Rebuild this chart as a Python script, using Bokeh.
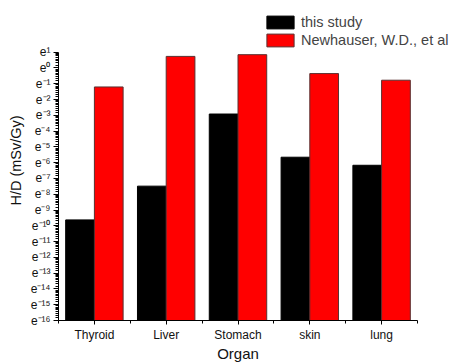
import math
import numpy as np
from bokeh.plotting import figure
from bokeh.models import Range1d, FixedTicker, Legend, LegendItem, ColumnDataSource, Title
from bokeh.embed import file_html
from bokeh.resources import INLINE

# ---- data ----
organs = ["Thyroid", "Liver", "Stomach", "skin", "lung"]
this_study = [6.6e-5, 5.6e-4, 5.4e-2, 3.5e-3, 2.1e-3]          # H/D (mSv/Gy)
newhauser = [0.30, 2.08, 2.32, 0.70, 0.46]                     # H/D (mSv/Gy)
series_names = ["this study", "Newhauser, W.D., et al"]
y_exponents = [1, 0, -1, -2, -3, -4, -5, -6, -7, -8, -9, -10, -11, -12, -13, -14, -15, -16]
y_tick_labels = ["e¹", "e⁰", "e⁻¹", "e⁻²", "e⁻³", "e⁻⁴", "e⁻⁵", "e⁻⁶", "e⁻⁷", "e⁻⁸",
                 "e⁻⁹", "e⁻¹⁰", "e⁻¹¹", "e⁻¹²", "e⁻¹³", "e⁻¹⁴", "e⁻¹⁵", "e⁻¹⁶"]
x_title = "Organ"
y_title = "H/D (mSv/Gy)"

FONT = "Liberation Sans"
ymin, ymax = min(y_exponents), max(y_exponents)
n = len(organs)

# layout (pixels)
W, H = 455, 363
LEFT, BOTTOM = 58, 41
AX_W, AX_H = 359, 270          # drawn axis extents
FRAME_W, FRAME_H = W - LEFT, H - BOTTOM
x_end = -0.5 + n * FRAME_W / AX_W
y_end = ymin + (ymax - ymin) * FRAME_H / AX_H

idx = np.arange(n)
src = ColumnDataSource(dict(
    x_a=idx - 0.2,
    x_b=idx + 0.2,
    top_a=np.log(this_study),
    top_b=np.log(newhauser),
))

p = figure(width=W, height=H,
           x_range=Range1d(-0.5, x_end),
           y_range=Range1d(ymin, y_end),
           output_backend="svg", toolbar_location=None,
           min_border_left=LEFT, min_border_right=0,
           min_border_top=0, min_border_bottom=BOTTOM)

r1 = p.vbar(x="x_a", top="top_a", bottom=ymin, width=0.4, source=src,
            fill_color="black", line_color="black", line_width=1)
r2 = p.vbar(x="x_b", top="top_b", bottom=ymin, width=0.4, source=src,
            fill_color="#ff0000", line_color="#5a3030", line_width=1)

p.xgrid.visible = False
p.ygrid.visible = False
p.outline_line_color = None
p.background_fill_color = "white"
p.border_fill_color = "white"

# x axis
p.xaxis.bounds = (-0.5, n - 0.5)
p.xaxis.ticker = FixedTicker(ticks=list(idx),
                             minor_ticks=[i - 0.5 for i in range(n + 1)])
p.xaxis.major_label_overrides = {int(i): organs[i] for i in idx}
p.xaxis.major_label_text_font = FONT
p.xaxis.major_label_text_font_size = "12px"
p.xaxis.major_label_standoff = 3
p.xaxis.major_tick_out = 4
p.xaxis.major_tick_in = 0
p.xaxis.minor_tick_out = 3
p.xaxis.minor_tick_in = 0

# x title centred under the drawn axis (which is narrower than the frame)
title_px = 15
text_w = 41.7
offset = (AX_W / 2) - text_w / 2
p.add_layout(Title(text=x_title, align="left", offset=offset,
                   text_font=FONT, text_font_size=f"{title_px}px",
                   text_font_style="normal", text_color="#111111",
                   vertical_align="top", standoff=0), "below")

# y axis (natural-log scale; positions are exponents)
minor = []
for e0 in range(ymin, ymax):
    for k in range(1, 9):
        minor.append(e0 + math.log(1 + k * (math.e - 1) / 9))
p.yaxis.bounds = (ymin, ymax)
p.yaxis.ticker = FixedTicker(ticks=y_exponents, minor_ticks=minor)
p.yaxis.major_label_overrides = {e: lab for e, lab in zip(y_exponents, y_tick_labels)}
p.yaxis.axis_label = y_title
p.yaxis.axis_label_text_font = FONT
p.yaxis.axis_label_text_font_size = "14.5px"
p.yaxis.axis_label_text_font_style = "normal"
p.yaxis.axis_label_standoff = 4
p.yaxis.major_label_text_font = FONT
p.yaxis.major_label_text_font_size = "12px"
p.yaxis.major_label_standoff = 3
p.yaxis.major_tick_out = 5
p.yaxis.major_tick_in = 0
p.yaxis.minor_tick_out = 3
p.yaxis.minor_tick_in = 0

for ax in (p.xaxis, p.yaxis):
    ax.axis_line_color = "black"
    ax.major_tick_line_color = "black"
    ax.minor_tick_line_color = "black"
    ax.major_label_text_color = "#111111"
    ax.axis_label_text_color = "#111111"

legend = Legend(items=[LegendItem(label=series_names[0], renderers=[r1]),
                       LegendItem(label=series_names[1], renderers=[r2])],
                location=(205, 272),
                glyph_width=34, glyph_height=16, label_height=16,
                spacing=2, padding=0, margin=0, label_standoff=4,
                label_text_font=FONT, label_text_font_size="14.5px",
                border_line_color=None, background_fill_alpha=0)
p.add_layout(legend, "center")

open("out.html", "w").write(file_html(p, INLINE))
